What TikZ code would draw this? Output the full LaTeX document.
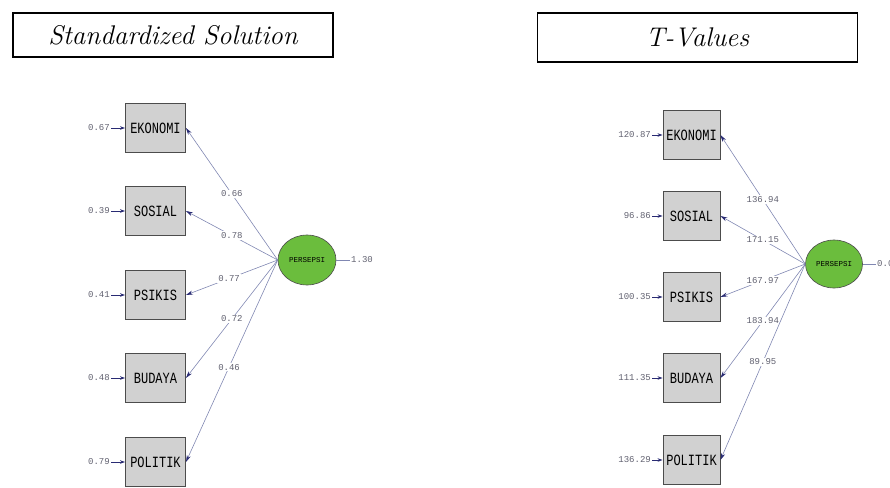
\documentclass[tikz,border=0pt]{standalone}
\usepackage{fontspec}
\newfontfamily\monof{Liberation Mono}
\usetikzlibrary{arrows.meta,shapes.geometric}
\definecolor{lineblue}{rgb}{0.50,0.53,0.70}
\definecolor{navy}{rgb}{0.16,0.17,0.45}
\definecolor{valgray}{rgb}{0.38,0.38,0.44}
\definecolor{boxfill}{rgb}{0.82,0.82,0.82}
\definecolor{boxline}{rgb}{0.30,0.30,0.30}
\definecolor{latgreen}{rgb}{0.42,0.74,0.24}
\tikzset{
  titlebox/.style={draw=black,line width=1.6pt,minimum width=320pt,minimum height=44pt,inner sep=0pt,
    font=\fontsize{27}{27}\selectfont\itshape},
  obs/.style={draw=boxline,line width=0.9pt,fill=boxfill,minimum width=60pt,minimum height=49pt,inner sep=0pt,
    font=\monof\fontsize{12}{12}\selectfont},
  lat/.style={ellipse,draw=boxline,line width=0.6pt,fill=latgreen,minimum width=58pt,minimum height=50pt,inner sep=0pt,
    font=\monof\fontsize{7.5}{7.5}\selectfont},
  val/.style={text=valgray,inner sep=1pt,font=\monof\fontsize{9}{9}\selectfont},
  lab/.style={text=valgray,fill=white,inner sep=1pt,font=\monof\fontsize{9}{9}\selectfont},
  patharr/.style={draw=lineblue,line width=0.6pt,-{Stealth[length=7pt,width=4pt,color=navy]}},
  errarr/.style={draw=navy,line width=0.8pt,-{Stealth[length=5pt,width=3.5pt,color=navy]}},
  resid/.style={draw=lineblue,line width=0.6pt}
}
\begin{document}
\begin{tikzpicture}[x=1pt,y=-1pt]
\useasboundingbox (0,0) rectangle (890,487);
% titles
\node[titlebox] (t1) at (173,35) {Standardized Solution};
\node[titlebox,minimum height=49pt] (t2) at (697.5,37.5) {T-Values};

% ---------- left diagram ----------
\node[obs] (a1) at (155.5,128) {\scalebox{1}[1.3]{EKONOMI}};
\node[obs] (a2) at (155.5,211) {\scalebox{1}[1.3]{SOSIAL}};
\node[obs] (a3) at (155.5,295) {\scalebox{1}[1.3]{PSIKIS}};
\node[obs] (a4) at (155.5,378) {\scalebox{1}[1.3]{BUDAYA}};
\node[obs] (a5) at (155.5,462) {\scalebox{1}[1.3]{POLITIK}};
\node[lat] (la) at (307,260) {PERSEPSI};

\node[val,anchor=east] (ea1) at (111,128) {0.67};
\node[val,anchor=east] (ea2) at (111,211) {0.39};
\node[val,anchor=east] (ea3) at (111,295) {0.41};
\node[val,anchor=east] (ea4) at (111,378) {0.48};
\node[val,anchor=east] (ea5) at (111,462) {0.79};
\foreach \i in {1,...,5}{\draw[errarr] (ea\i.east) -- (a\i.west);}

\node[val,anchor=west] (ra) at (350,260) {1.30};
\draw[resid] (la.east) -- (ra.west);

\draw[patharr] (la.west) -- node[lab,pos=0.5] {0.66} (a1.east);
\draw[patharr] (la.west) -- node[lab,pos=0.5] {0.78} (a2.east);
\draw[patharr] (la.west) -- node[lab,pos=0.53] {0.77} (a3.east);
\draw[patharr] (la.west) -- node[lab,pos=0.5] {0.72} (a4.east);
\draw[patharr] (la.west) -- node[lab,pos=0.53] {0.46} (a5.east);

% ---------- right diagram ----------
\node[obs,minimum width=57pt] (b1) at (691.5,135) {\scalebox{1}[1.3]{EKONOMI}};
\node[obs,minimum width=57pt] (b2) at (691.5,216) {\scalebox{1}[1.3]{SOSIAL}};
\node[obs,minimum width=57pt] (b3) at (691.5,297) {\scalebox{1}[1.3]{PSIKIS}};
\node[obs,minimum width=57pt] (b4) at (691.5,378) {\scalebox{1}[1.3]{BUDAYA}};
\node[obs,minimum width=57pt] (b5) at (691.5,460) {\scalebox{1}[1.3]{POLITIK}};
\node[lat,minimum width=57pt,minimum height=48pt] (lb) at (834,264) {PERSEPSI};

\node[val,anchor=east] (eb1) at (652,135) {120.87};
\node[val,anchor=east] (eb2) at (652,216) {96.86};
\node[val,anchor=east] (eb3) at (652,297) {100.35};
\node[val,anchor=east] (eb4) at (652,378) {111.35};
\node[val,anchor=east] (eb5) at (652,460) {136.29};
\foreach \i in {1,...,5}{\draw[errarr] (eb\i.east) -- (b\i.west);}

\node[val,anchor=west] (rb) at (876,264) {0.00};
\draw[resid] (lb.east) -- (rb.west);

\draw[patharr] (lb.west) -- node[lab,pos=0.5] {136.94} (b1.east);
\draw[patharr] (lb.west) -- node[lab,pos=0.5] {171.15} (b2.east);
\draw[patharr] (lb.west) -- node[lab,pos=0.5] {167.97} (b3.east);
\draw[patharr] (lb.west) -- node[lab,pos=0.5] {183.94} (b4.east);
\draw[patharr] (lb.west) -- node[lab,pos=0.5] {89.95} (b5.east);
\end{tikzpicture}
\end{document}
